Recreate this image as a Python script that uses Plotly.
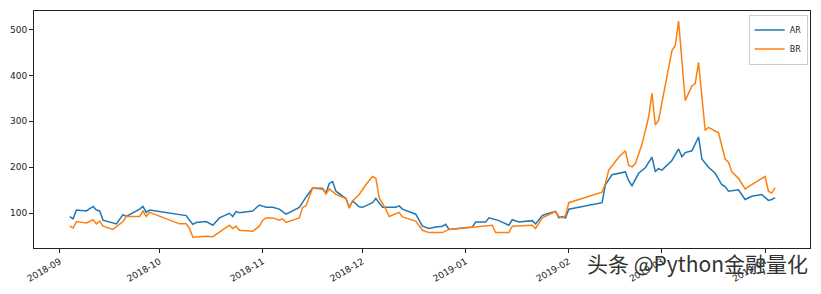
import plotly.graph_objects as go

ar_dates = ["2018-09-04","2018-09-05","2018-09-06","2018-09-09","2018-09-11","2018-09-12","2018-09-13","2018-09-14",
            "2018-09-18","2018-09-20","2018-09-21","2018-09-25","2018-09-26","2018-09-27","2018-09-28",
            "2018-10-09","2018-10-10","2018-10-11","2018-10-12","2018-10-15","2018-10-17","2018-10-19","2018-10-22",
            "2018-10-23","2018-10-24","2018-10-25","2018-10-29","2018-10-31","2018-11-02","2018-11-04","2018-11-06",
            "2018-11-08","2018-11-12","2018-11-13","2018-11-14","2018-11-16","2018-11-19","2018-11-20","2018-11-21",
            "2018-11-22","2018-11-23","2018-11-26","2018-11-27","2018-11-28","2018-11-30","2018-12-01","2018-12-03",
            "2018-12-04","2018-12-05","2018-12-07","2018-12-11","2018-12-12","2018-12-13","2018-12-17","2018-12-19",
            "2018-12-21","2018-12-23","2018-12-25","2018-12-26","2018-12-27","2019-01-03","2019-01-04","2019-01-07",
            "2019-01-08","2019-01-11","2019-01-14","2019-01-15","2019-01-17","2019-01-21","2019-01-22","2019-01-24",
            "2019-01-25","2019-01-28","2019-01-29","2019-01-30","2019-01-31","2019-02-01","2019-02-11","2019-02-12",
            "2019-02-14","2019-02-18","2019-02-19","2019-02-20","2019-02-22","2019-02-24","2019-02-26","2019-02-27",
            "2019-02-28","2019-03-01","2019-03-04","2019-03-06","2019-03-07","2019-03-08","2019-03-10","2019-03-12",
            "2019-03-13","2019-03-15","2019-03-17","2019-03-19","2019-03-20","2019-03-21","2019-03-24","2019-03-26",
            "2019-03-28","2019-03-31","2019-04-02","2019-04-03","2019-04-04"]
ar_values = [93, 88, 107, 105, 115, 107, 105, 85,
             77, 97, 93, 109, 115, 102, 107,
             95, 85, 76, 80, 82, 74, 90, 100,
             93, 104, 101, 105, 118, 113, 113, 109,
             98, 113, 125, 135, 155, 153, 144, 165,
             169, 148, 132, 113, 127, 114, 113, 120,
             123, 132, 113, 113, 116, 109, 98, 72,
             67, 70, 72, 76, 65, 70, 81, 81,
             90, 84, 74, 86, 81, 84, 77, 95,
             98, 104, 90, 93, 90, 109, 123, 162,
             184, 190, 171, 160, 187, 199, 222, 191,
             197, 194, 215, 240, 223, 232, 236, 266,
             218, 200, 187, 162, 158, 148, 151, 130,
             137, 141, 128, 130, 134]

br_dates = ["2018-09-04","2018-09-05","2018-09-06","2018-09-09","2018-09-11","2018-09-12","2018-09-13","2018-09-14",
            "2018-09-17","2018-09-20","2018-09-21","2018-09-25","2018-09-26","2018-09-27","2018-09-28",
            "2018-10-07","2018-10-09","2018-10-10","2018-10-11","2018-10-15","2018-10-17","2018-10-18","2018-10-19",
            "2018-10-22","2018-10-23","2018-10-24","2018-10-25","2018-10-29","2018-10-31","2018-11-01","2018-11-02",
            "2018-11-04","2018-11-06","2018-11-07","2018-11-08","2018-11-12","2018-11-13","2018-11-14","2018-11-16",
            "2018-11-19","2018-11-20","2018-11-21","2018-11-23","2018-11-26","2018-11-27","2018-11-28","2018-11-30",
            "2018-12-02","2018-12-04","2018-12-05","2018-12-06","2018-12-08","2018-12-09","2018-12-12","2018-12-13",
            "2018-12-17","2018-12-19","2018-12-21","2018-12-25","2018-12-27","2019-01-09","2019-01-10","2019-01-14",
            "2019-01-15","2019-01-21","2019-01-22","2019-01-24","2019-01-28","2019-01-29","2019-01-30","2019-01-31",
            "2019-02-01","2019-02-11","2019-02-12","2019-02-13","2019-02-16","2019-02-18","2019-02-19","2019-02-20",
            "2019-02-21","2019-02-23","2019-02-25","2019-02-26","2019-02-27","2019-02-28","2019-03-03","2019-03-04",
            "2019-03-05","2019-03-06","2019-03-08","2019-03-10","2019-03-11","2019-03-12","2019-03-14","2019-03-15",
            "2019-03-18","2019-03-20","2019-03-21","2019-03-22","2019-03-24","2019-03-26","2019-03-27","2019-04-01",
            "2019-04-02","2019-04-03","2019-04-04"]
br_values = [72, 68, 82, 79, 86, 77, 83, 72,
             65, 82, 93, 93, 105, 93, 102,
             77, 77, 67, 48, 50, 49, 54, 58,
             74, 67, 72, 63, 61, 72, 85, 90,
             90, 85, 88, 80, 90, 113, 116, 155,
             155, 142, 153, 141, 132, 111, 127, 141,
             162, 180, 176, 134, 109, 93, 102, 92,
             83, 63, 58, 58, 65, 74, 58, 58,
             72, 74, 67, 90, 104, 93, 90, 95,
             123, 146, 165, 194, 222, 236, 204, 201,
             208, 250, 310, 361, 292, 303, 416, 454,
             465, 518, 345, 377, 382, 428, 280, 287,
             275, 218, 211, 190, 176, 153, 158, 180,
             148, 144, 156]

series_names = ["AR", "BR"]
colors = ["#1f77b4", "#ff7f0e"]
y_ticks = [100, 200, 300, 400, 500]

fig = go.Figure()
for name, xs, ys, c in [(series_names[0], ar_dates, ar_values, colors[0]),
                        (series_names[1], br_dates, br_values, colors[1])]:
    fig.add_trace(go.Scatter(x=xs, y=ys, mode="lines", name=name,
                             line=dict(color=c, width=1.5)))

axis_common = dict(showgrid=False, zeroline=False, showline=True, linecolor="#222",
                   linewidth=1, mirror=True, ticks="outside", ticklen=4, tickcolor="#222",
                   tickfont=dict(family="DejaVu Sans", size=9, color="#222"))

fig.update_layout(
    width=821, height=294,
    margin=dict(l=29, r=10, t=11, b=39),
    paper_bgcolor="white", plot_bgcolor="white",
    showlegend=True,
    legend=dict(x=0.997, y=0.985, xanchor="right", yanchor="top",
                bgcolor="rgba(255,255,255,0.9)", bordercolor="#ccc", borderwidth=1,
                font=dict(family="DejaVu Sans", size=8, color="#222"),
                tracegroupgap=0, itemwidth=30),
    xaxis=dict(type="date", range=["2018-08-24 06:00", "2019-04-14 12:00"],
               dtick="M1", tick0="2018-09-01", tickformat="%Y-%m", tickangle=-30,
               **axis_common),
    yaxis=dict(range=[24.5, 540], tickvals=y_ticks, **axis_common),
)

fig.add_annotation(text="头条 @Python金融量化", xref="paper", yref="paper",
                   x=1.0, y=-0.062, xanchor="right", yanchor="middle", showarrow=False,
                   font=dict(family="Noto Sans CJK SC", size=21, color="#333"))

fig.write_html("out.html")
